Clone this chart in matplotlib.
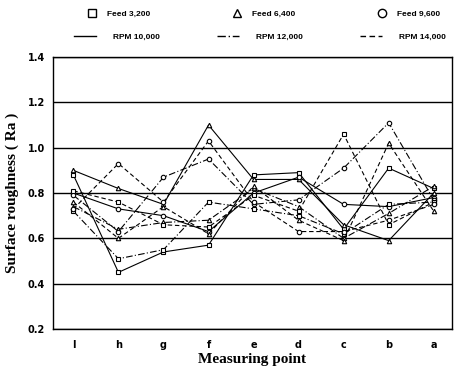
import matplotlib.pyplot as plt
from matplotlib.lines import Line2D
import numpy as np

# measuring points (left to right)
points = ['l', 'h', 'g', 'f', 'e', 'd', 'c', 'b', 'a']

# surface roughness Ra
sq_10k = [0.88, 0.45, 0.54, 0.57, 0.88, 0.89, 0.64, 0.91, 0.82]
tr_10k = [0.90, 0.82, 0.75, 1.10, 0.86, 0.86, 0.66, 0.59, 0.80]
ci_10k = [0.80, 0.73, 0.70, 0.63, 0.80, 0.87, 0.75, 0.74, 0.78]

sq_12k = [0.72, 0.51, 0.55, 0.76, 0.73, 0.70, 0.62, 0.75, 0.76]
tr_12k = [0.74, 0.64, 0.67, 0.68, 0.82, 0.74, 0.60, 0.71, 0.83]
ci_12k = [0.79, 0.63, 0.87, 0.95, 0.75, 0.77, 0.91, 1.11, 0.77]

sq_14k = [0.81, 0.76, 0.66, 0.65, 0.79, 0.72, 1.06, 0.66, 0.76]
tr_14k = [0.76, 0.60, 0.74, 0.62, 0.83, 0.68, 0.59, 1.02, 0.72]
ci_14k = [0.73, 0.93, 0.76, 1.03, 0.76, 0.63, 0.63, 0.68, 0.75]

feed_labels = ['Feed 3,200', 'Feed 6,400', 'Feed 9,600']
rpm_labels = ['RPM 10,000', 'RPM 12,000', 'RPM 14,000']

markers = ['s', '^', 'o']
styles = ['-', (0, (6, 2, 1, 2)), (0, (4, 2.5))]

series = [[sq_10k, tr_10k, ci_10k],
          [sq_12k, tr_12k, ci_12k],
          [sq_14k, tr_14k, ci_14k]]

fig = plt.figure(figsize=(4.54, 3.83), dpi=100)
ax = fig.add_axes([0.117, 0.141, 0.878, 0.71])

x = np.arange(len(points))
for r, row in enumerate(series):
    for f, vals in enumerate(row):
        ax.plot(x, vals, color='black', linewidth=0.8, linestyle=styles[r],
                marker=markers[f], markersize=3.2, markerfacecolor='white',
                markeredgecolor='black', markeredgewidth=0.8)

ax.set_xlim(-0.45, 8.4)
ax.set_ylim(0.2, 1.4)
ax.set_yticks(np.arange(0.2, 1.41, 0.2))
ax.set_yticklabels(['%.1f' % v for v in np.arange(0.2, 1.41, 0.2)])
ax.set_xticks(x)
ax.set_xticklabels(points)
ax.yaxis.grid(True, color='black', linewidth=1.0)
ax.set_axisbelow(True)
for s in ax.spines.values():
    s.set_linewidth(1.0)
ax.tick_params(axis='both', length=0, labelsize=7, pad=8)
for lab in ax.get_xticklabels() + ax.get_yticklabels():
    lab.set_fontweight('bold')
ax.tick_params(axis='y', pad=6)

font = {'family': 'Liberation Serif', 'weight': 'bold', 'size': 11}
ax.set_xlabel('Measuring point', font, labelpad=2)
ax.set_ylabel('Surface roughness ( Ra )', font, labelpad=6)

# legends at top
mk = [Line2D([], [], color='black', linestyle='none', marker=m, markersize=6,
             markerfacecolor='white', markeredgewidth=1.0) for m in markers]
ln = [Line2D([], [], color='black', linewidth=1.0, linestyle=s) for s in styles]
lfont = {'family': 'Liberation Sans', 'size': 6, 'weight': 'bold'}
leg1 = fig.legend(mk, feed_labels, loc='center', bbox_to_anchor=(0.580, 0.963),
                  ncol=3, frameon=False, prop=lfont, columnspacing=9.7,
                  handlelength=1.38, handletextpad=1.14)
leg2 = fig.legend(ln, rpm_labels, loc='center', bbox_to_anchor=(0.573, 0.903),
                  ncol=3, frameon=False, prop=lfont, columnspacing=6.84,
                  handlelength=2.64, handletextpad=2.04)

fig.savefig('out.png', dpi=100)
